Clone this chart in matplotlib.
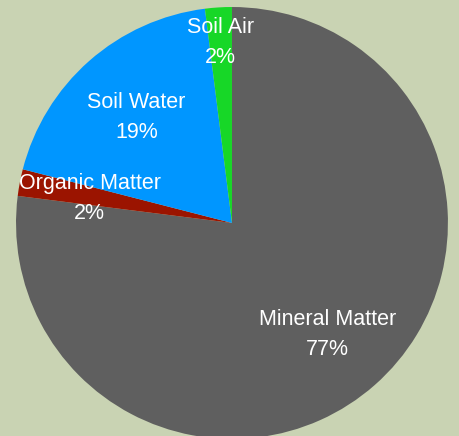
import numpy as np
import matplotlib.pyplot as plt

categories = ['Mineral Matter', 'Organic Matter', 'Soil Water', 'Soil Air']
percent = [77, 2, 19, 2]

colors = ['#5f5f5f', '#9b1400', '#0096ff', '#17d727']
label_radius = [0.67, 0.67, 0.67, 0.85]

plt.rcParams['font.family'] = ['Liberation Sans', 'DejaVu Sans']

fig = plt.figure(figsize=(4.59, 4.36), dpi=100)
fig.patch.set_facecolor('#c9d3b3')
ax = fig.add_axes([0.0349, -0.0069, 0.941, 0.991])
ax.set_facecolor('#c9d3b3')

wedges, _ = ax.pie(percent, colors=colors, startangle=90, counterclock=False,
                   radius=1.0, wedgeprops=dict(linewidth=0))

for w, name, val, r in zip(wedges, categories, percent, label_radius):
    ang = np.deg2rad((w.theta1 + w.theta2) / 2)
    ax.annotate(f'{name}\n{val}%', (r * np.cos(ang), r * np.sin(ang)),
                xytext=(0, -3), textcoords='offset pixels',
                ha='center', va='center', color='white', fontsize=15.5,
                linespacing=1.55)

ax.set_xlim(-1, 1)
ax.set_ylim(-1, 1)
ax.set_aspect('equal')
ax.axis('off')

fig.savefig('out.png', dpi=100, facecolor=fig.get_facecolor())
